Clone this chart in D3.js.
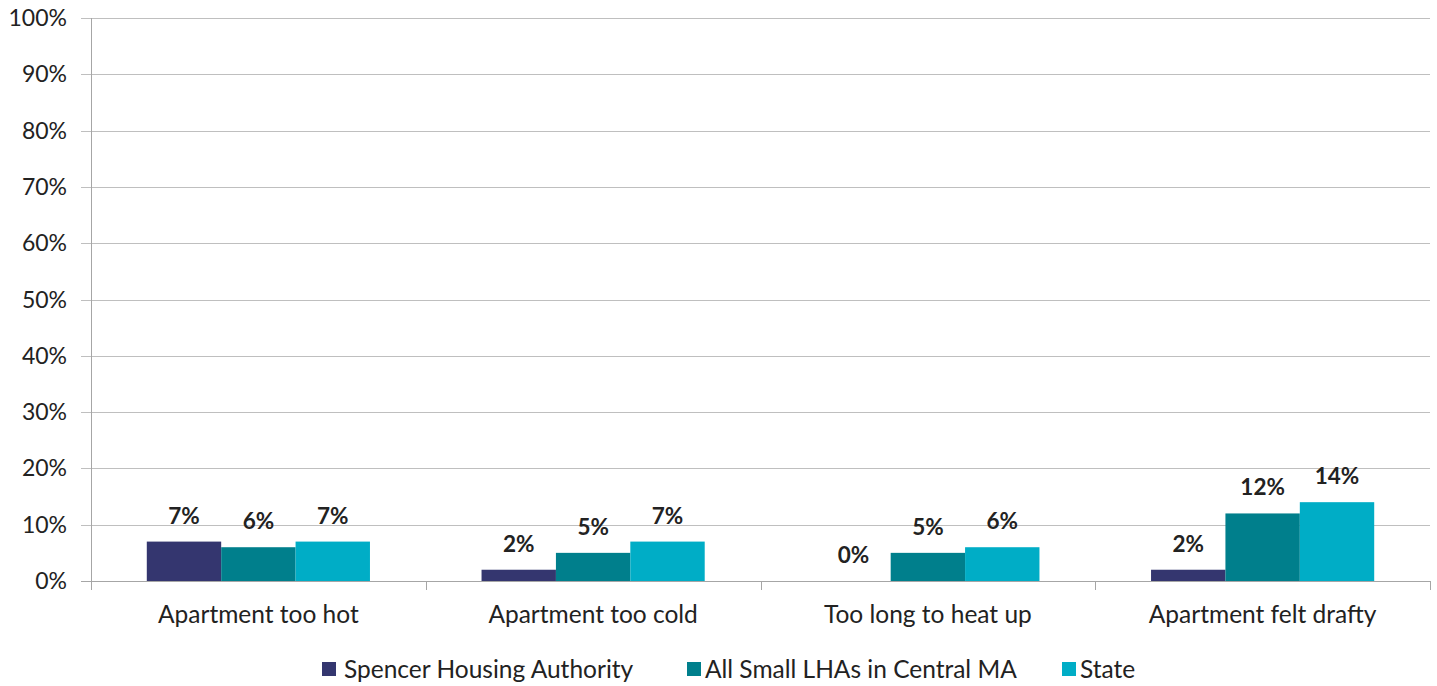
<!DOCTYPE html>
<html>
<head>
<meta charset="utf-8">
<script src="https://cdn.jsdelivr.net/npm/d3@7"></script>
<style>
  body { margin: 0; background: #fff; }
  svg text { font-family: Lato, "Open Sans", sans-serif; fill: #222; }
</style>
</head>
<body>
<svg id="chart" width="1437" height="686"></svg>
<script>
const categories = ['Apartment too hot', 'Apartment too cold', 'Too long to heat up', 'Apartment felt drafty'];
const seriesNames = ['Spencer Housing Authority', 'All Small LHAs in Central MA', 'State'];
const spencer = [7, 2, 0, 2];
const smallLHAs = [6, 5, 5, 12];
const state = [7, 7, 6, 14];
const yTicks = [0, 10, 20, 30, 40, 50, 60, 70, 80, 90, 100];
const colors = ['#34366f', '#007f8c', '#00adc6'];

const series = [spencer, smallLHAs, state];

const svg = d3.select('#chart');
const margin = {top: 18, right: 7, bottom: 105, left: 91};
const width = 1437 - margin.left - margin.right;
const height = 686 - margin.top - margin.bottom;

const g = svg.append('g').attr('transform', `translate(${margin.left},${margin.top})`);

const x0 = d3.scaleBand().domain(categories).range([0, width]).paddingInner(0).paddingOuter(0);
// excel gap width 150%: 3 bars + 1.5 bar widths per category
const barW = x0.bandwidth() / 4.5;
const x1 = d3.scaleBand().domain(d3.range(seriesNames.length))
    .range([barW * 0.75, barW * 0.75 + barW * 3]);
const y = d3.scaleLinear().domain([0, 100]).range([height, 0]);

// gridlines
g.append('g')
  .selectAll('line')
  .data(yTicks)
  .join('line')
    .attr('x1', -10)
    .attr('x2', width)
    .attr('y1', d => Math.round(y(d)) + 0.5)
    .attr('y2', d => Math.round(y(d)) + 0.5)
    .attr('stroke', d => d === 0 ? '#a6a6a6' : '#bfbfbf')
    .attr('stroke-width', 1);

// y axis line
g.append('line')
    .attr('x1', 0.5).attr('x2', 0.5)
    .attr('y1', 0).attr('y2', height)
    .attr('stroke', '#a6a6a6');

// y labels
g.append('g')
  .selectAll('text')
  .data(yTicks)
  .join('text')
    .attr('x', -24)
    .attr('y', d => y(d))
    .attr('dy', '0.35em')
    .attr('text-anchor', 'end')
    .style('font-size', '23px')
    .text(d => d + '%');

// x tick marks at category boundaries
g.append('g')
  .selectAll('line')
  .data(categories.map((c, i) => i).concat([categories.length]))
  .join('line')
    .attr('x1', d => Math.round(d * x0.step()) + 0.5)
    .attr('x2', d => Math.round(d * x0.step()) + 0.5)
    .attr('y1', height)
    .attr('y2', height + 9)
    .attr('stroke', '#a6a6a6');

// category labels
g.append('g')
  .selectAll('text')
  .data(categories)
  .join('text')
    .attr('x', d => x0(d) + x0.bandwidth() / 2)
    .attr('y', height + 42)
    .attr('text-anchor', 'middle')
    .style('font-size', '24.5px')
    .text(d => d);

// bars
const groups = g.selectAll('g.cat')
  .data(categories)
  .join('g')
    .attr('class', 'cat')
    .attr('transform', d => `translate(${x0(d)},0)`);

groups.each(function(cat, ci) {
    const sel = d3.select(this);
    const vals = series.map((s, si) => ({si, v: s[ci]}));
    sel.selectAll('rect')
      .data(vals)
      .join('rect')
        .attr('x', d => x1(d.si))
        .attr('width', x1.bandwidth())
        .attr('y', d => y(d.v))
        .attr('height', d => height - y(d.v))
        .attr('fill', d => colors[d.si]);
    sel.selectAll('text')
      .data(vals)
      .join('text')
        .attr('x', d => x1(d.si) + x1.bandwidth() / 2)
        .attr('y', d => y(d.v) - 18)
        .attr('text-anchor', 'middle')
        .style('font-size', '22.5px')
        .style('font-weight', 'bold')
        .text(d => d.v + '%');
});

// legend
const legendItems = [
    {name: seriesNames[0], x: 322, tx: 344},
    {name: seriesNames[1], x: 687, tx: 705},
    {name: seriesNames[2], x: 1062, tx: 1080}
];
const legend = svg.append('g').attr('transform', 'translate(0,669)');
legendItems.forEach((item, i) => {
    legend.append('rect')
        .attr('x', item.x)
        .attr('y', -7)
        .attr('width', 14)
        .attr('height', 14)
        .attr('fill', colors[i]);
    legend.append('text')
        .attr('x', item.tx)
        .attr('y', 0)
        .attr('dy', '0.35em')
        .style('font-size', '24.5px')
        .text(item.name);
});
</script>
</body>
</html>
